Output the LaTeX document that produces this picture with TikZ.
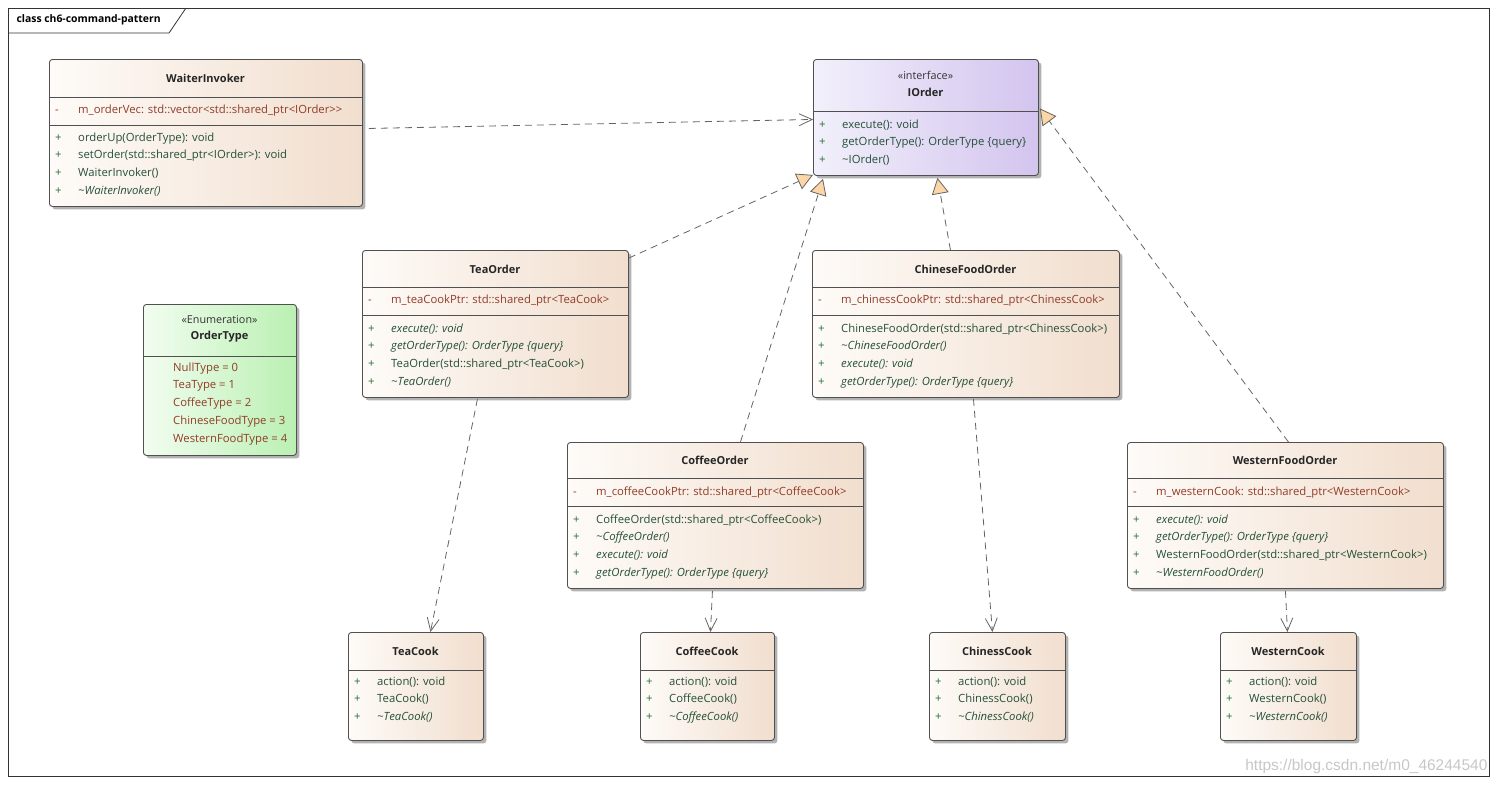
\documentclass[tikz,border=0pt]{standalone}
\usepackage{fontspec}
\setmainfont{Open Sans}
\newfontfamily\wmfont{Liberation Sans}
\usetikzlibrary{arrows.meta, shadows, calc}

\definecolor{boxline}{RGB}{80,80,80}
\definecolor{clsleft}{RGB}{254,251,248}
\definecolor{clsright}{RGB}{241,222,206}
\definecolor{ifleft}{RGB}{242,240,251}
\definecolor{ifright}{RGB}{211,196,238}
\definecolor{enleft}{RGB}{242,253,240}
\definecolor{enright}{RGB}{186,240,178}
\definecolor{attrc}{RGB}{145,60,40}
\definecolor{opc}{RGB}{35,80,55}
\definecolor{plusc}{RGB}{30,110,50}
\definecolor{linkc}{RGB}{100,100,100}
\definecolor{trifill}{RGB}{253,214,168}

\newcommand{\opr}[1]{\textcolor{plusc}{+} & \textcolor{opc}{#1}\\}
\newcommand{\atr}[1]{\textcolor{attrc}{-} & \textcolor{attrc}{#1}\\}
\newcommand{\gtgt}{>\kern0pt>}

\tikzset{
  classbox/.style={draw=boxline, line width=0.9pt, rounded corners=3pt, anchor=north west,
    inner sep=0pt, left color=clsleft, right color=clsright,
    drop shadow={shadow xshift=3pt, shadow yshift=-3pt, fill=black!30, opacity=1}},
  ifbox/.style={classbox, left color=ifleft, right color=ifright},
  enumbox/.style={classbox, left color=enleft, right color=enright},
  classname/.style={font=\fontsize{11}{13}\selectfont\bfseries, text=black!85},
  stereo/.style={font=\fontsize{10.8}{12}\selectfont, text=black!80},
  members/.style={anchor=base west, inner sep=0pt, font=\fontsize{11.3}{17.8}\selectfont},
  divider/.style={draw=boxline, line width=0.9pt},
  realize/.style={draw=linkc, line width=0.8pt, dash pattern=on 7pt off 5pt,
    -{Triangle[length=16pt, width=17pt, fill=trifill]}},
  depend/.style={draw=linkc, line width=0.8pt, dash pattern=on 7pt off 5pt,
    -{Straight Barb[length=13pt, width=12pt]}},
}

\begin{document}
\begin{tikzpicture}[x=1pt, y=-1pt]
  \useasboundingbox (0,0) rectangle (1497,785);
  % frame
  \draw[black!80, line width=0.8pt] (8,8) rectangle (1489,776);
  \draw[black!80, line width=0.8pt] (8,33) -- (169,33) -- (186,8);
  \node[anchor=west, font=\fontsize{10.4}{12}\selectfont\bfseries] (frame) at (13,20) {class ch6-command-pattern};

  % class boxes
  \node[classbox, minimum width=313pt, minimum height=147pt] (waiter) at (49,59) {};
  \node[ifbox, minimum width=225pt, minimum height=116pt] (iorder) at (813,59) {};
  \node[classbox, minimum width=266pt, minimum height=147pt] (tea) at (362,250) {};
  \node[classbox, minimum width=307pt, minimum height=147pt] (chinese) at (812,250) {};
  \node[enumbox, minimum width=153pt, minimum height=151pt] (ordertype) at (143,304) {};
  \node[classbox, minimum width=296pt, minimum height=146pt] (coffee) at (567,442) {};
  \node[classbox, minimum width=316pt, minimum height=146pt] (western) at (1127,442) {};
  \node[classbox, minimum width=135pt, minimum height=108pt] (teacook) at (348,632) {};
  \node[classbox, minimum width=134pt, minimum height=108pt] (coffeecook) at (640,632) {};
  \node[classbox, minimum width=136pt, minimum height=108pt] (chinesscook) at (929,632) {};
  \node[classbox, minimum width=136pt, minimum height=108pt] (westerncook) at (1220,632) {};

  % compartments
  \draw[divider] (49,97) -- (362,97);
  \draw[divider] (49,125) -- (362,125);
  \draw[divider] (813,111) -- (1038,111);
  \draw[divider] (362,287) -- (628,287);
  \draw[divider] (362,315) -- (628,315);
  \draw[divider] (812,287) -- (1119,287);
  \draw[divider] (812,315) -- (1119,315);
  \draw[divider] (143,356) -- (296,356);
  \draw[divider] (567,478) -- (863,478);
  \draw[divider] (567,506) -- (863,506);
  \draw[divider] (1127,478) -- (1443,478);
  \draw[divider] (1127,506) -- (1443,506);
  \draw[divider] (348,670) -- (483,670);
  \draw[divider] (640,670) -- (774,670);
  \draw[divider] (929,670) -- (1065,670);
  \draw[divider] (1220,670) -- (1356,670);

  % names
  \node[classname] (waitername) at (205.5,78) {WaiterInvoker};
  \node[stereo] (iorderstereo) at (925.5,75) {«interface»};
  \node[classname] (iordername) at (925.5,92) {IOrder};
  \node[classname] (teaname) at (495,269) {TeaOrder};
  \node[classname] (chinesename) at (965.5,269) {ChineseFoodOrder};
  \node[stereo] (ordertypestereo) at (219.5,320) {«Enumeration»};
  \node[classname] (ordertypename) at (219.5,337) {OrderType};
  \node[classname] (coffeename) at (715,460) {CoffeeOrder};
  \node[classname] (westernname) at (1285,460) {WesternFoodOrder};
  \node[classname] (teacookname) at (415.5,651) {TeaCook};
  \node[classname] (coffeecookname) at (707,651) {CoffeeCook};
  \node[classname] (chinesscookname) at (997,651) {ChinessCook};
  \node[classname] (westerncookname) at (1288,651) {WesternCook};

  % members
  \node[members] (waiterattr) at (55,113) {\begin{tabular}[t]{@{}p{23pt}@{}l@{}}
    \atr{m\_orderVec: std::vector<std::shared\_ptr<IOrder\gtgt}
  \end{tabular}};
  \node[members] (waiterops) at (55,141) {\begin{tabular}[t]{@{}p{23pt}@{}l@{}}
    \opr{orderUp(OrderType): void}
    \opr{setOrder(std::shared\_ptr<IOrder>): void}
    \opr{WaiterInvoker()}
    \opr{\textit{\textasciitilde WaiterInvoker()}}
  \end{tabular}};
  \node[members] (iorderops) at (819,128) {\begin{tabular}[t]{@{}p{23pt}@{}l@{}}
    \opr{execute(): void}
    \opr{getOrderType(): OrderType \{query\}}
    \opr{\textasciitilde IOrder()}
  \end{tabular}};
  \node[members] (teaattr) at (368,303) {\begin{tabular}[t]{@{}p{23pt}@{}l@{}}
    \atr{m\_teaCookPtr: std::shared\_ptr<TeaCook>}
  \end{tabular}};
  \node[members] (teaops) at (368,332) {\begin{tabular}[t]{@{}p{23pt}@{}l@{}}
    \opr{\textit{execute(): void}}
    \opr{\textit{getOrderType(): OrderType \{query\}}}
    \opr{TeaOrder(std::shared\_ptr<TeaCook>)}
    \opr{\textit{\textasciitilde TeaOrder()}}
  \end{tabular}};
  \node[members] (chineseattr) at (818,303) {\begin{tabular}[t]{@{}p{23pt}@{}l@{}}
    \atr{m\_chinessCookPtr: std::shared\_ptr<ChinessCook>}
  \end{tabular}};
  \node[members] (chineseops) at (818,332) {\begin{tabular}[t]{@{}p{23pt}@{}l@{}}
    \opr{ChineseFoodOrder(std::shared\_ptr<ChinessCook>)}
    \opr{\textit{\textasciitilde ChineseFoodOrder()}}
    \opr{\textit{execute(): void}}
    \opr{\textit{getOrderType(): OrderType \{query\}}}
  \end{tabular}};
  \node[members, text=attrc] (ordertypevals) at (173,371) {\begin{tabular}[t]{@{}l@{}}
    NullType = 0\\ TeaType = 1\\ CoffeeType = 2\\ ChineseFoodType = 3\\ WesternFoodType = 4
  \end{tabular}};
  \node[members] (coffeeattr) at (573,495) {\begin{tabular}[t]{@{}p{23pt}@{}l@{}}
    \atr{m\_coffeeCookPtr: std::shared\_ptr<CoffeeCook>}
  \end{tabular}};
  \node[members] (coffeeops) at (573,523) {\begin{tabular}[t]{@{}p{23pt}@{}l@{}}
    \opr{CoffeeOrder(std::shared\_ptr<CoffeeCook>)}
    \opr{\textit{\textasciitilde CoffeeOrder()}}
    \opr{\textit{execute(): void}}
    \opr{\textit{getOrderType(): OrderType \{query\}}}
  \end{tabular}};
  \node[members] (westernattr) at (1133,495) {\begin{tabular}[t]{@{}p{23pt}@{}l@{}}
    \atr{m\_westernCook: std::shared\_ptr<WesternCook>}
  \end{tabular}};
  \node[members] (westernops) at (1133,523) {\begin{tabular}[t]{@{}p{23pt}@{}l@{}}
    \opr{\textit{execute(): void}}
    \opr{\textit{getOrderType(): OrderType \{query\}}}
    \opr{WesternFoodOrder(std::shared\_ptr<WesternCook>)}
    \opr{\textit{\textasciitilde WesternFoodOrder()}}
  \end{tabular}};
  \node[members] (teacookops) at (354,685) {\begin{tabular}[t]{@{}p{23pt}@{}l@{}}
    \opr{action(): void}
    \opr{TeaCook()}
    \opr{\textit{\textasciitilde TeaCook()}}
  \end{tabular}};
  \node[members] (coffeecookops) at (646,685) {\begin{tabular}[t]{@{}p{23pt}@{}l@{}}
    \opr{action(): void}
    \opr{CoffeeCook()}
    \opr{\textit{\textasciitilde CoffeeCook()}}
  \end{tabular}};
  \node[members] (chinesscookops) at (935,685) {\begin{tabular}[t]{@{}p{23pt}@{}l@{}}
    \opr{action(): void}
    \opr{ChinessCook()}
    \opr{\textit{\textasciitilde ChinessCook()}}
  \end{tabular}};
  \node[members] (westerncookops) at (1226,685) {\begin{tabular}[t]{@{}p{23pt}@{}l@{}}
    \opr{action(): void}
    \opr{WesternCook()}
    \opr{\textit{\textasciitilde WesternCook()}}
  \end{tabular}};

  % links
  \draw[depend] ($(waiter.east)+(6,-4.5)$) -- ($(iorder.west)+(0,2)$);
  \draw[realize] ($(tea.north east)+(0,8)$) -- ($(iorder.south west)+(0,-1)$);
  \draw[realize] ($(coffee.north)+(25,0)$) -- ($(iorder.south west)+(10,3)$);
  \draw[realize] ($(chinese.north)+(-15.5,0)$) -- ($(iorder.south)+(11.5,2)$);
  \draw[realize] ($(western.north)+(3,0)$) -- ($(iorder.east)+(1,-9)$);
  \draw[depend] ($(tea.south)+(-18,1)$) -- ($(teacook.north)+(14.5,0)$);
  \draw[depend] ($(coffee.south)+(-3,2)$) -- ($(coffeecook.north)+(3,0)$);
  \draw[depend] ($(chinese.south)+(7.5,1)$) -- ($(chinesscook.north)+(-5,0)$);
  \draw[depend] ($(western.south)+(0,2)$) -- ($(westerncook.north)+(-1,0)$);

  \node[anchor=east, text=black!22, font=\wmfont\fontsize{15.5}{17}\selectfont] (mark) at (1491,766) {https://blog.csdn.net/m0\_46244540};
\end{tikzpicture}
\end{document}
